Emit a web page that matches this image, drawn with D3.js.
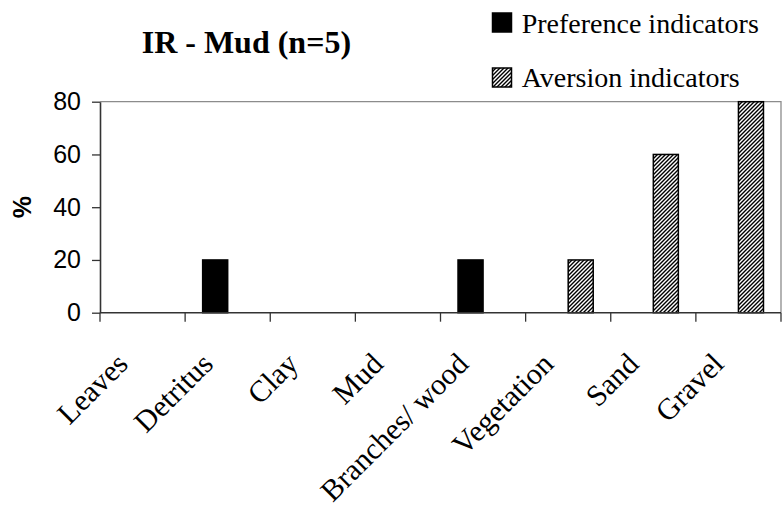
<!DOCTYPE html>
<html>
<head>
<meta charset="utf-8">
<script src="https://cdn.jsdelivr.net/npm/d3@7"></script>
<style>
  html, body { margin: 0; padding: 0; background: #fff; }
  svg { display: block; }
</style>
</head>
<body>
<svg id="chart" width="783" height="508"></svg>
<script>
const categories = ["Leaves", "Detritus", "Clay", "Mud", "Branches/ wood", "Vegetation", "Sand", "Gravel"];
const preference = [0, 20, 0, 0, 20, 0, 0, 0];
const aversion = [0, 0, 0, 0, 0, 20, 60, 80];
const seriesNames = ["Preference indicators", "Aversion indicators"];
const yTicks = [0, 20, 40, 60, 80];
const title = "IR - Mud (n=5)";
const yLabel = "%";

const svg = d3.select("#chart");
const serif = "'Liberation Serif', 'DejaVu Serif', serif";
const sans = "'Liberation Sans', Arial, sans-serif";

const margin = { left: 100, right: 2, top: 101.7, bottom: 195.3 };
const W = 783, H = 508;
const x0 = margin.left, x1 = W - margin.right;
const yTop = margin.top, yBot = H - margin.bottom;

const defs = svg.append("defs");
const pat = defs.append("pattern")
  .attr("id", "hatch")
  .attr("patternUnits", "userSpaceOnUse")
  .attr("width", 4).attr("height", 4);
pat.append("rect").attr("width", 4).attr("height", 4).attr("fill", "#fff");
pat.append("path")
  .attr("d", "M-1,1 l2,-2 M0,4 l4,-4 M3,5 l2,-2")
  .attr("stroke", "#000").attr("stroke-width", 1.4);

const x = d3.scaleBand().domain(categories).range([x0, x1]).paddingInner(0).paddingOuter(0);
const xs = d3.scaleBand().domain(seriesNames).range([0, x.bandwidth()]).paddingInner(0).paddingOuter(0.7);
const y = d3.scaleLinear().domain([0, 80]).range([yBot, yTop]);

// plot border (top/right) gray
svg.append("path")
  .attr("d", `M${x0},${yTop} H${x1} V${yBot}`)
  .attr("fill", "none").attr("stroke", "#8c8c8c").attr("stroke-width", 1.3);

// bars
const data = categories.map((c, i) => ({ c, vals: [preference[i], aversion[i]] }));
const g = svg.append("g");
data.forEach(d => {
  d.vals.forEach((v, j) => {
    if (v <= 0) return;
    g.append("rect")
      .attr("x", x(d.c) + xs(seriesNames[j]))
      .attr("y", y(v))
      .attr("width", xs.bandwidth())
      .attr("height", y(0) - y(v))
      .attr("fill", j === 0 ? "#000" : "url(#hatch)")
      .attr("stroke", "#000")
      .attr("stroke-width", 1.5);
  });
});

// y axis
const yAxis = d3.axisLeft(y).tickValues(yTicks).tickSize(8).tickPadding(11).tickSizeOuter(0);
const ya = svg.append("g").attr("transform", `translate(${x0},0)`).call(yAxis);
ya.select(".domain").attr("stroke", "#333").attr("stroke-width", 1.6);
ya.selectAll(".tick line").attr("stroke", "#333").attr("stroke-width", 1.3);
ya.selectAll(".tick text").attr("font-family", sans).attr("font-size", 25).attr("fill", "#000");

// x axis line + ticks at band boundaries
svg.append("line").attr("x1", x0).attr("x2", x1).attr("y1", yBot).attr("y2", yBot)
  .attr("stroke", "#333").attr("stroke-width", 1.6);
const bounds = categories.map(c => x(c)).concat([x1]);
svg.append("g").selectAll("line").data(bounds).join("line")
  .attr("x1", d => d).attr("x2", d => d)
  .attr("y1", yBot).attr("y2", yBot + 9)
  .attr("stroke", "#333").attr("stroke-width", 1.3);

// x labels rotated
svg.append("g").selectAll("text").data(categories).join("text")
  .attr("transform", d => `translate(${x(d) + x.bandwidth() / 2 - 13},${yBot + 53}) rotate(-45)`)
  .attr("text-anchor", "end")
  .attr("font-family", serif).attr("font-size", 30).attr("fill", "#000")
  .text(d => d);

// y label
svg.append("text")
  .attr("transform", `translate(31,${(yTop + yBot) / 2}) rotate(-90)`)
  .attr("text-anchor", "middle")
  .attr("font-family", sans).attr("font-weight", "bold").attr("font-size", 25)
  .text(yLabel);

// title
svg.append("text")
  .attr("x", 141.7).attr("y", 53.3)
  .attr("font-family", serif).attr("font-weight", "bold").attr("font-size", 32)
  .text(title);

// legend
const legend = svg.append("g");
const legY = [13, 68];
const legBase = [33.3, 87.3];
seriesNames.forEach((n, j) => {
  legend.append("rect")
    .attr("x", 492.5).attr("y", legY[j]).attr("width", 19).attr("height", 19)
    .attr("fill", j === 0 ? "#000" : "url(#hatch)")
    .attr("stroke", "#000").attr("stroke-width", 1.5);
  legend.append("text")
    .attr("x", 521.7).attr("y", legBase[j])
    .attr("font-family", serif).attr("font-size", 28).attr("fill", "#000")
    .text(n);
});
</script>
</body>
</html>
